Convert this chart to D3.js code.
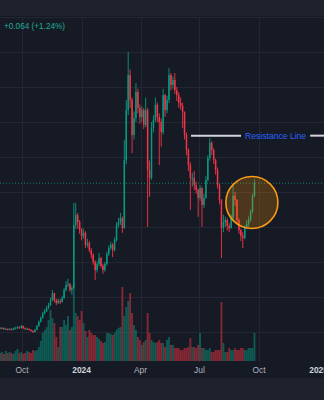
<!DOCTYPE html>
<html><head><meta charset="utf-8">
<script src="https://cdn.jsdelivr.net/npm/d3@7"></script>
<style>html,body{margin:0;padding:0;background:#161a25;overflow:hidden}</style>
</head><body><svg id="c" width="324" height="400"></svg>
<script>
// ---- data ----
const startDate = "2023-08-28";
const stepDays = 3;
const firstOpen = 1.12;
const closes = [1.11,1.11,1.09,1.09,1.06,1.09,1.06,1.11,1.11,1.14,1.11,1.17,1.11,1.09,1.09,1.06,1.03,1.00,1.06,1.17,
1.29,1.40,1.54,1.60,1.69,1.77,1.91,2.11,1.91,1.83,1.89,1.86,1.97,2.20,2.34,2.37,2.20,2.26,4.06,4.34,
4.14,3.91,3.74,3.83,3.49,3.54,3.34,3.20,3.00,2.77,2.94,3.11,2.89,2.77,2.94,3.23,3.40,3.49,3.34,3.63,
4.06,4.14,4.26,3.97,5.91,7.34,8.34,7.63,6.63,7.11,7.86,7.40,7.14,7.34,6.91,7.34,5.63,5.40,6.83,7.06,
7.49,7.14,7.00,6.71,7.77,7.34,7.63,8.34,8.06,8.20,7.91,7.77,7.54,7.46,7.29,6.63,6.20,5.77,5.40,5.40,
5.20,5.06,4.83,5.11,4.63,4.83,5.34,5.97,6.40,6.20,5.91,5.63,5.20,4.77,3.97,4.14,4.20,4.03,3.97,4.26,
4.89,4.77,4.20,3.91,3.74,3.69,4.00,4.09,4.20,4.43,4.89,5.25];
const highs = [1.14,1.14,1.13,1.12,1.10,1.11,1.10,1.13,1.15,1.17,1.16,1.20,1.18,1.13,1.12,1.10,1.08,1.05,1.09,1.20,
1.33,1.45,1.58,1.66,1.74,1.83,1.98,2.20,2.12,1.95,1.95,1.94,2.03,2.26,2.45,2.52,2.40,2.32,4.69,4.69,
4.40,4.20,3.97,3.95,3.88,3.66,3.60,3.40,3.25,3.05,3.02,3.26,3.15,2.95,3.00,3.30,3.48,3.58,3.54,3.70,
4.14,4.26,4.40,4.30,6.49,7.63,9.00,8.50,7.70,7.30,8.11,7.95,7.50,7.45,7.40,7.70,7.40,5.90,7.00,7.20,
7.70,7.55,7.25,7.10,7.95,7.80,7.75,8.54,8.40,8.30,8.40,8.00,7.85,7.70,7.55,7.30,6.70,6.25,5.85,5.55,
5.60,5.30,5.10,5.20,5.15,4.95,5.45,6.05,6.54,6.45,6.25,5.95,5.70,5.25,4.80,4.35,4.30,4.25,4.10,4.35,
5.26,5.00,4.80,4.25,3.95,3.85,4.05,4.20,4.30,4.50,4.95,5.36];
const lows = [1.08,1.08,1.06,1.06,1.04,1.05,1.04,1.05,1.08,1.09,1.09,1.10,1.09,1.06,1.06,1.04,1.01,0.97,0.99,1.05,
1.15,1.27,1.38,1.50,1.57,1.65,1.74,1.88,1.85,1.77,1.80,1.80,1.84,1.95,2.16,2.28,2.14,2.06,2.24,3.95,
3.95,3.80,3.62,3.66,3.40,3.42,3.28,3.10,2.92,2.49,2.70,2.88,2.83,2.66,2.72,2.90,3.18,3.35,3.14,3.30,
3.58,3.98,4.06,3.83,3.95,5.80,7.20,7.40,6.11,6.50,7.00,7.25,6.95,7.00,6.80,6.85,4.00,4.86,5.35,6.70,
7.00,7.00,5.77,6.30,6.65,7.15,7.25,7.55,7.90,7.95,7.80,7.60,7.40,7.35,6.83,6.50,6.05,5.60,4.49,5.15,
5.05,4.95,4.29,4.75,4.00,4.55,4.80,5.30,5.90,6.05,5.80,5.50,5.10,4.65,3.11,3.85,4.00,3.90,3.85,3.95,
4.20,4.60,4.10,3.80,3.60,3.40,3.65,3.95,4.00,4.15,4.40,4.85];
const volumes = [8,9,7,10,8,9,8,7,10,12,8,9,7,8,10,9,8,11,10,11,
14,20,28,31,34,41,51,43,38,24,14,34,34,41,36,45,31,34,78,48,
45,41,50,38,30,24,31,28,26,26,24,22,20,18,19,28,28,27,26,28,
31,33,34,74,45,54,60,68,48,36,31,24,21,16,19,21,48,28,21,19,
18,19,21,18,18,14,21,24,16,16,13,13,13,11,11,13,13,14,23,14,
14,13,16,28,13,13,11,11,13,9,9,11,11,11,59,18,9,9,13,11,
11,13,11,11,13,13,11,11,13,13,13,28];
const tickDates = ["2023-10-01","2024-01-01","2024-04-01","2024-07-01","2024-10-01","2025-01-01"];
const tickLabels = ["Oct","2024","Apr","Jul","Oct","2025"];
const tickBold = [false,true,false,false,false,true];
const gridPrices = [1,2,3,4,5,6,7,8,9,10];
const changeText = "+0.064 (+1.24%)";
const resistancePrice = 6.61;
const resistanceStart = "2024-06-18";
const resistanceLabel = "Resistance Line";
const highlightDate = "2024-09-20";
const highlightPrice = 4.70;

// ---- chart ----
const W = 324, H = 400;
const parse = d3.timeParse("%Y-%m-%d");
const svg = d3.select("#c");
const FONT = "'Liberation Sans', Arial, sans-serif";
const UP = "#089981", DOWN = "#f23645";

const t0 = parse(startDate);
const candles = closes.map((c, i) => ({
  date: d3.timeDay.offset(t0, i * stepDays),
  open: i === 0 ? firstOpen : closes[i - 1],
  close: c, high: highs[i], low: lows[i], vol: volumes[i]
}));

const x = d3.scaleTime().domain([parse("2023-10-01"), parse("2024-10-01")]).range([22, 259]);
const y = d3.scaleLinear().domain([0, 10]).range([367, 17]);
const yv = d3.scaleLinear().domain([0, 75]).range([361, 286]);

svg.append("rect").attr("width", W).attr("height", H).attr("fill", "#161a25");
svg.append("rect").attr("width", W).attr("height", 16).attr("fill", "#1e222d");
svg.append("rect").attr("y", 378).attr("width", W).attr("height", 22).attr("fill", "#1e222d");

// grid
const g = svg.append("g");
g.selectAll(".hg").data(gridPrices).join("line")
  .attr("x1", 0).attr("x2", W).attr("y1", d => Math.round(y(d)) + 0.5).attr("y2", d => Math.round(y(d)) + 0.5)
  .attr("stroke", "#232734").attr("stroke-width", 1);
g.selectAll(".vg").data(tickDates.slice(0, 5)).join("line")
  .attr("x1", d => Math.round(x(parse(d))) + 0.5).attr("x2", d => Math.round(x(parse(d))) + 0.5)
  .attr("y1", 17).attr("y2", 362).attr("stroke", "#232734").attr("stroke-width", 1);

// volume
svg.append("g").selectAll("rect").data(candles).join("rect")
  .attr("x", d => x(d.date) - 0.95).attr("width", 1.9)
  .attr("y", d => yv(d.vol)).attr("height", d => yv(0) - yv(d.vol))
  .attr("fill", d => d.close >= d.open ? UP : DOWN).attr("fill-opacity", 0.5);

// candles
const cg = svg.append("g");
cg.selectAll("line").data(candles).join("line")
  .attr("x1", d => x(d.date)).attr("x2", d => x(d.date))
  .attr("y1", d => y(d.high)).attr("y2", d => y(d.low))
  .attr("stroke", d => d.close >= d.open ? UP : DOWN).attr("stroke-width", 0.9);
cg.selectAll("rect").data(candles).join("rect")
  .attr("x", d => x(d.date) - 0.75).attr("width", 1.5)
  .attr("y", d => y(Math.max(d.open, d.close)))
  .attr("height", d => Math.max(1, Math.abs(y(d.open) - y(d.close))))
  .attr("fill", d => d.close >= d.open ? UP : DOWN);

// current price dotted line
const last = candles[candles.length - 1];
svg.append("line").attr("x1", 0).attr("x2", W)
  .attr("y1", y(last.close)).attr("y2", y(last.close))
  .attr("stroke", UP).attr("stroke-width", 1).attr("stroke-dasharray", "1,2").attr("opacity", 0.8);

// highlight circle
svg.append("circle").attr("cx", x(parse(highlightDate))).attr("cy", y(highlightPrice)).attr("r", 26)
  .attr("fill", "rgba(255,152,0,0.24)").attr("stroke", "#f59a12").attr("stroke-width", 1.6);

// resistance line
const ry = y(resistancePrice);
const txt = svg.append("text").attr("x", 245).attr("y", ry).attr("dy", "0.35em")
  .attr("font-family", FONT).attr("font-size", 8.6).attr("fill", "#2962ff").text(resistanceLabel);
const tw = txt.node().getComputedTextLength();
svg.append("line").attr("x1", x(parse(resistanceStart))).attr("x2", 241).attr("y1", ry).attr("y2", ry)
  .attr("stroke", "#d1d4dc").attr("stroke-width", 2);
svg.append("line").attr("x1", 245 + tw + 4).attr("x2", W).attr("y1", ry).attr("y2", ry)
  .attr("stroke", "#d1d4dc").attr("stroke-width", 2);

// change text
svg.append("text").attr("x", 4).attr("y", 29).attr("font-family", FONT).attr("font-size", 8.2)
  .attr("fill", "#22ab94").text(changeText);

// x axis labels
svg.append("g").selectAll("text").data(tickDates).join("text")
  .attr("x", d => x(parse(d))).attr("y", 373).attr("text-anchor", "middle")
  .attr("font-family", FONT).attr("font-size", 8.4)
  .attr("font-weight", (d, i) => tickBold[i] ? "bold" : "normal")
  .attr("fill", (d, i) => tickBold[i] ? "#d1d4dc" : "#b2b5be")
  .text((d, i) => tickLabels[i]);
</script></body></html>
